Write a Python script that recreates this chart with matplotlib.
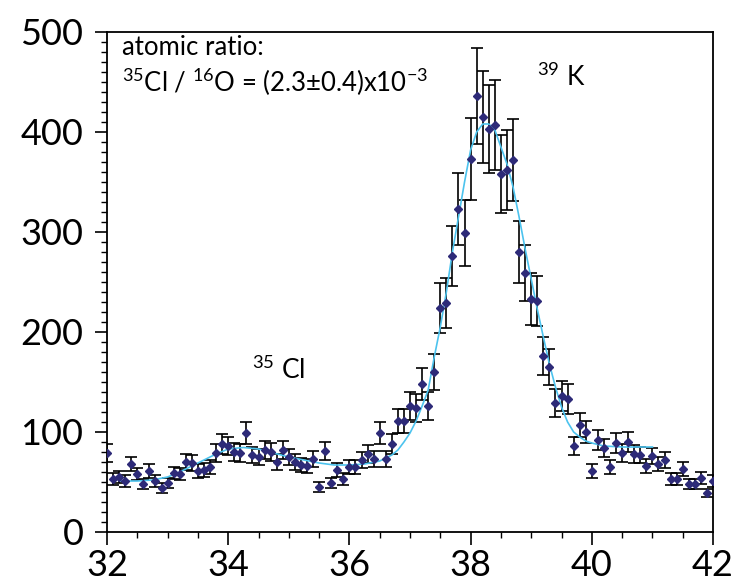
import numpy as np
import matplotlib
matplotlib.use("Agg")
import matplotlib.pyplot as plt

plt.rcParams["font.family"] = ["Lato", "DejaVu Sans"]
plt.rcParams["mathtext.default"] = "regular"

# mass scan, channels every 0.1 u from 32 to 42
counts = [79, 53, 55, 51, 68, 58, 48, 61, 51, 44,
          49, 59, 58, 70, 69, 61, 62, 65, 79, 88,
          86, 80, 79, 99, 77, 75, 82, 80, 70, 82,
          75, 70, 67, 66, 73, 45, 81, 49, 62, 53,
          65, 65, 72, 78, 73, 99, 73, 88, 111, 111,
          126, 124, 148, 126, 160, 224, 229, 276, 323, 299,
          373, 436, 415, 403, 407, 358, 362, 372, 280, 259,
          233, 231, 176, 165, 129, 136, 133, 86, 107, 100,
          61, 92, 84, 65, 89, 79, 90, 78, 77, 66,
          76, 68, 72, 53, 53, 63, 48, 48, 54, 39, 51]
errors = [9, 6, 6, 6, 7, 6, 5, 7, 6, 5,
          5, 6, 6, 8, 8, 7, 7, 7, 9, 10,
          9, 9, 9, 11, 8, 8, 9, 9, 8, 9,
          8, 8, 7, 7, 8, 5, 9, 5, 7, 6,
          7, 7, 8, 9, 8, 11, 8, 10, 12, 12,
          14, 14, 16, 14, 18, 25, 25, 30, 36, 33,
          41, 48, 46, 44, 45, 39, 40, 41, 31, 28,
          26, 25, 19, 18, 14, 15, 15, 9, 12, 11,
          7, 10, 9, 7, 10, 9, 10, 9, 8, 7,
          8, 7, 8, 6, 6, 7, 5, 5, 6, 4, 6]
mass = 32.0 + 0.1 * np.arange(len(counts))

# fitted curve
fit_x = [32.21, 32.5, 32.75, 33.0, 33.2, 33.4, 33.6, 33.8, 34.0, 34.25,
         34.5, 34.75, 35.0, 35.25, 35.5, 35.75, 36.0, 36.25, 36.5, 36.7,
         36.8, 36.9, 37.0, 37.1, 37.2, 37.3, 37.4, 37.5, 37.6, 37.7,
         37.8, 37.9, 38.0, 38.1, 38.2, 38.3, 38.4, 38.5, 38.6, 38.7,
         38.8, 38.9, 39.0, 39.1, 39.2, 39.3, 39.4, 39.5, 39.6, 39.7,
         39.8, 39.9, 40.0, 40.2, 40.5, 41.0]
fit_y = [51, 51, 52, 55, 60, 66, 72, 78, 83, 84.5,
         83, 79, 75, 72, 69, 67, 67, 68, 71, 77,
         82, 90, 99, 111, 126, 142, 175, 205, 240, 280,
         315, 350, 382, 400, 408, 408, 402, 385, 368, 345,
         315, 283, 253, 223, 195, 168, 145, 125, 110, 100,
         95, 91, 89, 86, 85, 85]

fig = plt.figure(figsize=(7.34, 5.87), dpi=100)
ax = fig.add_axes([0.1458, 0.0937, 0.8256, 0.8518])

ax.errorbar(mass, counts, yerr=errors, fmt="none", ecolor="black",
            elinewidth=1.2, capsize=4, capthick=1.2, zorder=2)
ax.plot(fit_x, fit_y, "-", color="#4cc3ee", lw=1.2, zorder=3)
ax.plot(mass, counts, "D", color="#2d2a78", ms=4.5, zorder=4)

ax.set_xlim(32, 42)
ax.set_ylim(0, 500)
ax.set_xticks([32, 34, 36, 38, 40, 42])
ax.set_xticks(np.arange(32, 42.01, 0.5), minor=True)
ax.set_yticks([0, 100, 200, 300, 400, 500])
ax.set_yticks(np.arange(0, 501, 10), minor=True)
ax.tick_params(which="major", length=9, width=1.2, labelsize=26)
ax.tick_params(axis="y", which="major", pad=8)
ax.tick_params(axis="x", which="major", pad=3)
ax.tick_params(which="minor", length=4.5, width=1.0)
for s in ax.spines.values():
    s.set_linewidth(1.3)

ax.text(32.25, 484, "atomic ratio:", fontsize=18.5, va="center", ha="left")
ax.text(32.25, 450, r"$^{35}$Cl / $^{16}$O = (2.3±0.4)x10$^{-3}$",
        fontsize=18.5, va="center", ha="left")
ax.text(39.1, 455, r"$^{39}$ K", fontsize=19, va="center", ha="left")
ax.text(34.4, 162, r"$^{35}$ Cl", fontsize=19, va="center", ha="left")

fig.savefig("out.png", dpi=100)
